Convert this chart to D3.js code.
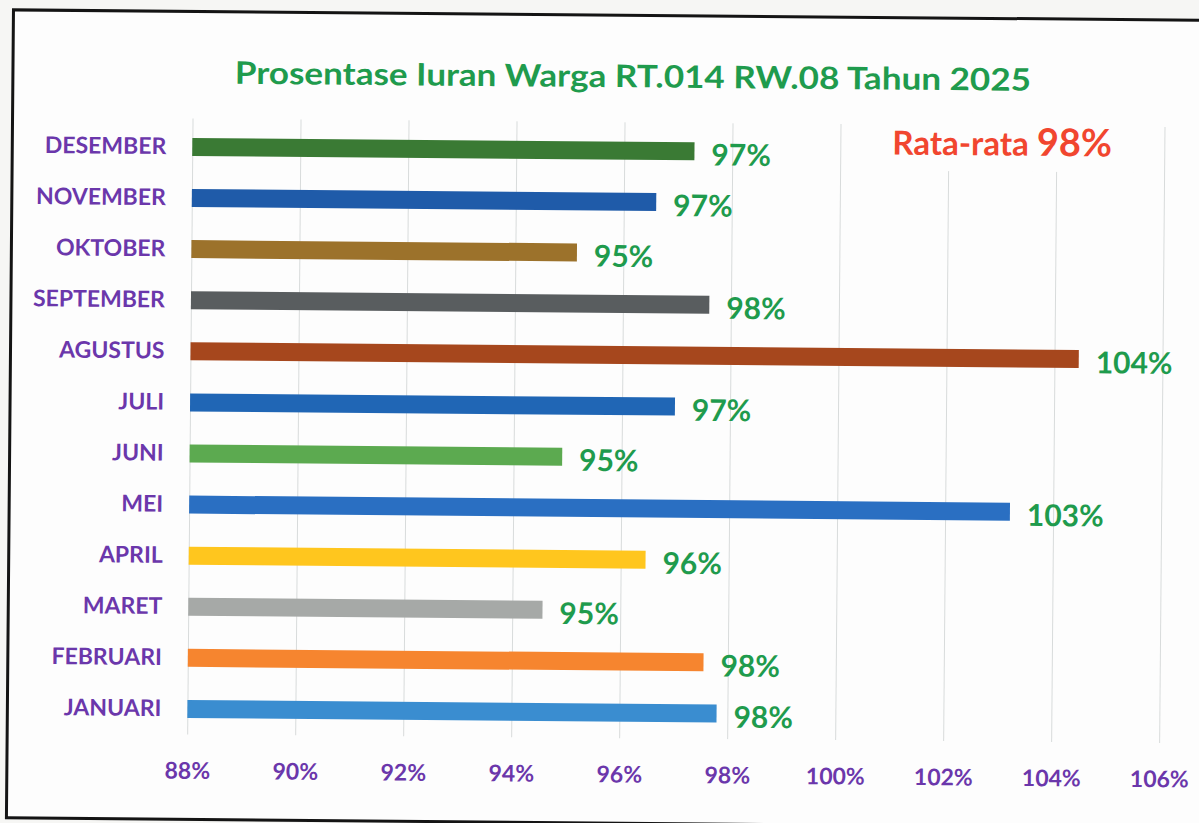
<!DOCTYPE html>
<html>

<head>
  <meta charset="utf-8">
  <title>Prosentase Iuran Warga</title>
  <style>
    body {
      margin: 0;
      background: #f6f6f4;
    }

    text {
      font-family: Lato, 'Open Sans', sans-serif;
      font-weight: bold;
    }
  </style>
</head>

<body>
  <div id='chart'></div>

  <script src="https://d3js.org/d3.v7.min.js"></script>
  <script>
    // data (order: januari -> desember)
    let months = ['JANUARI', 'FEBRUARI', 'MARET', 'APRIL', 'MEI', 'JUNI',
      'JULI', 'AGUSTUS', 'SEPTEMBER', 'OKTOBER', 'NOVEMBER', 'DESEMBER'];
    let persen = [97.8, 97.55, 94.56, 96.46, 103.2, 94.9, 96.98, 104.45, 97.6, 95.14, 96.6, 97.3];
    let barColors = ['#3a8dd0', '#f6852f', '#a6a9a7', '#ffc61e', '#2a6fc2', '#5caa50',
      '#2066b5', '#a6471d', '#595d5f', '#9c722b', '#1f5ba9', '#3a7a34'];
    let xTicks = [88, 90, 92, 94, 96, 98, 100, 102, 104, 106];
    let title = 'Prosentase Iuran Warga RT.014 RW.08 Tahun 2025';

    let svgWidth = 1199;
    let svgHeight = 823;

    function translate(x, y) {
      return 'translate(' + x + ',' + y + ')';
    }

    let svg = d3.select('#chart').append('svg')
      .attr('width', svgWidth)
      .attr('height', svgHeight);

    svg.append('rect')
      .attr('width', svgWidth)
      .attr('height', svgHeight)
      .attr('fill', '#f6f6f4');

    // the printed sheet sits a little tilted in the photo
    let g = svg.append('g')
      .attr('transform', 'rotate(0.5,600,411)');

    // paper + frame
    g.append('rect')
      .attr('x', 10)
      .attr('y', 15)
      .attr('width', 1260)
      .attr('height', 808)
      .attr('fill', '#fdfdfd')
      .attr('stroke', '#141414')
      .attr('stroke-width', 3);

    let x = d3.scaleLinear()
      .domain([88, 106])
      .range([190, 1162]);

    let y = d3.scalePoint()
      .domain(months.slice().reverse())
      .range([150.5, 712.5]);

    let barH = 18;

    // gridlines + bottom labels
    let xAxis = g.append('g')
      .attr('class', 'xAxis')
      .attr('transform', translate(0, 738))
      .call(d3.axisBottom(x).tickValues(xTicks).tickSize(-616).tickPadding(28)
        .tickFormat(d => d + '%'));
    xAxis.select('.domain').remove();
    xAxis.selectAll('line').attr('stroke', '#d8dbdb');
    xAxis.selectAll('text')
      .attr('fill', '#6b37ab')
      .style('font-size', '23px')
      .style('font-family', 'Lato, sans-serif');

    // month labels
    let yAxis = g.append('g')
      .attr('class', 'yAxis')
      .attr('transform', translate(190, 0))
      .call(d3.axisLeft(y).tickSize(0).tickPadding(26));
    yAxis.select('.domain').remove();
    yAxis.selectAll('text')
      .attr('fill', '#6b37ab')
      .attr('dy', '0.3em')
      .style('font-size', '23px')
      .style('font-family', 'Lato, sans-serif');

    // bars
    g.selectAll('.bar')
      .data(months)
      .enter()
      .append('rect')
      .attr('class', 'bar')
      .attr('x', x(88))
      .attr('y', d => y(d) - barH / 2)
      .attr('width', (d, i) => x(persen[i]) - x(88))
      .attr('height', barH)
      .attr('fill', (d, i) => barColors[i]);

    // value labels
    g.selectAll('.val')
      .data(months)
      .enter()
      .append('text')
      .attr('class', 'val')
      .attr('x', (d, i) => x(persen[i]) + 17)
      .attr('y', d => y(d) + 14)
      .attr('fill', '#1f9b4d')
      .style('font-size', '30px')
      .text((d, i) => Math.round(persen[i]) + '%');

    // title
    g.append('text')
      .attr('x', 630)
      .attr('y', 87)
      .attr('text-anchor', 'middle')
      .attr('fill', '#1f9b4d')
      .attr('textLength', 796)
      .attr('lengthAdjust', 'spacingAndGlyphs')
      .style('font-size', '31px')
      .text(title);

    // rata-rata box
    let rata = d3.mean(persen);
    g.append('rect')
      .attr('x', 878)
      .attr('y', 110)
      .attr('width', 262)
      .attr('height', 58)
      .attr('fill', '#fdfdfd');

    let r = g.append('text')
      .attr('x', 890)
      .attr('y', 152)
      .attr('fill', '#f1462f');
    r.append('tspan')
      .style('font-size', '33px')
      .text('Rata-rata ');
    r.append('tspan')
      .style('font-size', '38px')
      .text(Math.round(rata) + '%');
  </script>
</body>

</html>
